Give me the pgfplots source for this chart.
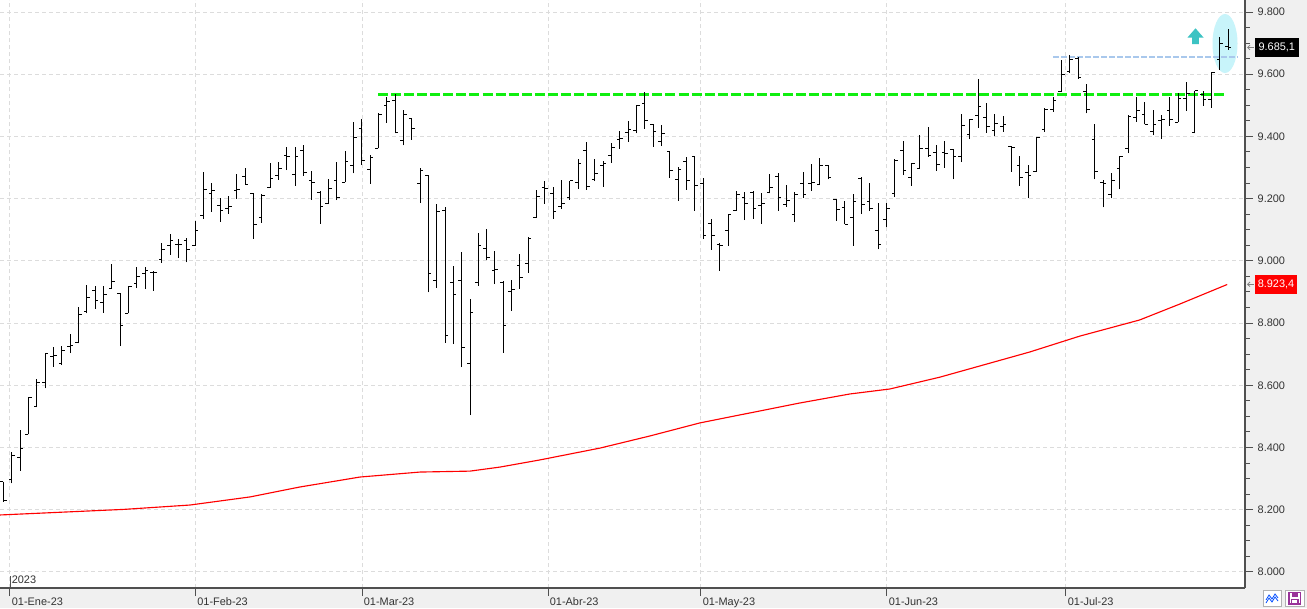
\documentclass[border=0pt]{standalone}
\usepackage{pgfplots}
\pgfplotsset{compat=1.18}
\usepackage{pgfplotstable}
\usepackage{fontspec}
\setmainfont{Liberation Sans}
\usetikzlibrary{arrows.meta}
\definecolor{panel}{HTML}{F0F0F0}
\definecolor{gridc}{HTML}{DCDCDC}
\definecolor{resgreen}{HTML}{10EE10}
\definecolor{lightblue}{HTML}{A9C8EC}
\definecolor{elcyan}{HTML}{C8F4FA}
\definecolor{arrcyan}{HTML}{3CC3C3}
\definecolor{axc}{HTML}{505050}

\pgfplotstableread{
i o h l c
1 8290 8290 8226 8231
2 8298 8386 8285 8373
3 8368 8456 8325 8397
4 8442 8563 8442 8562
5 8531 8620 8529 8610
6 8610 8703 8590 8703
7 8694 8722 8660 8696
8 8671 8725 8665 8713
9 8724 8765 8703 8727
10 8737 8853 8735 8829
11 8837 8922 8831 8883
12 8906 8919 8846 8874
13 8865 8919 8833 8893
14 8912 8990 8912 8935
15 8896 8898 8726 8793
16 8831 8919 8831 8919
17 8928 8981 8912 8949
18 8958 8981 8909 8968
19 8963 8968 8904 8962
20 9006 9056 8994 9038
21 9048 9085 9019 9065
22 9053 9070 9010 9053
23 9064 9073 8995 9038
24 9050 9128 9049 9098
25 9146 9287 9136 9230
26 9217 9250 9158 9227
27 9179 9202 9126 9163
28 9169 9209 9151 9175
29 9227 9279 9200 9230
30 9272 9299 9245 9245
31 9217 9217 9071 9118
32 9138 9215 9123 9211
33 9235 9315 9235 9265
34 9275 9318 9260 9298
35 9339 9366 9292 9334
36 9278 9366 9242 9336
37 9355 9372 9274 9285
38 9257 9289 9196 9253
39 9221 9224 9119 9175
40 9184 9262 9182 9232
41 9259 9319 9195 9203
42 9253 9353 9253 9319
43 9307 9446 9281 9398
44 9424 9456 9309 9323
45 9294 9340 9248 9331
46 9362 9474 9362 9469
47 9500 9528 9444 9513
48 9514 9536 9410 9413
49 9388 9485 9371 9469
50 9458 9458 9390 9426
51 9249 9298 9187 9289
52 9275 9275 8899 8960
53 8938 9182 8914 9159
54 9163 9173 8737 8761
55 8929 8983 8732 8892
56 8937 9028 8658 8722
57 8671 8877 8504 8835
58 8931 9090 8920 9050
59 9040 9102 9002 9011
60 8970 9032 8925 8973
61 8932 8934 8705 8793
62 8900 8938 8840 8909
63 8986 9022 8910 8947
64 8990 9076 8962 9073
65 9140 9228 9137 9208
66 9236 9257 9184 9233
67 9217 9237 9136 9159
68 9174 9260 9167 9185
69 9204 9257 9196 9257
70 9253 9326 9232 9314
71 9355 9382 9229 9240
72 9263 9326 9256 9281
73 9307 9320 9238 9314
74 9339 9378 9316 9364
75 9391 9417 9361 9393
76 9412 9450 9383 9423
77 9418 9501 9410 9499
78 9507 9542 9425 9452
79 9439 9439 9367 9417
80 9384 9437 9369 9410
81 9352 9352 9267 9292
82 9263 9301 9193 9295
83 9321 9335 9229 9259
84 9336 9336 9161 9243
85 9249 9265 9070 9082
86 9121 9136 9036 9080
87 9054 9056 8968 9048
88 9098 9150 9049 9150
89 9161 9224 9161 9214
90 9204 9221 9131 9185
91 9221 9224 9136 9168
92 9179 9217 9119 9185
93 9220 9279 9217 9235
94 9270 9282 9161 9204
95 9180 9244 9174 9195
96 9150 9220 9126 9214
97 9249 9286 9203 9214
98 9249 9311 9226 9253
99 9246 9331 9246 9308
100 9308 9308 9262 9267
101 9196 9196 9129 9166
102 9172 9192 9118 9118
103 9140 9214 9049 9192
104 9265 9271 9150 9182
105 9192 9250 9160 9169
106 9099 9185 9037 9054
107 9134 9185 9108 9169
108 9217 9326 9206 9322
109 9355 9385 9276 9292
110 9269 9314 9242 9314
111 9298 9405 9298 9362
112 9362 9430 9334 9339
113 9349 9372 9290 9310
114 9348 9385 9299 9346
115 9359 9359 9262 9336
116 9337 9472 9317 9436
117 9407 9455 9391 9453
118 9468 9585 9428 9497
119 9462 9507 9412 9431
120 9420 9472 9402 9443
121 9433 9466 9415 9439
122 9368 9368 9287 9366
123 9307 9336 9242 9269
124 9285 9307 9201 9275
125 9287 9399 9287 9396
126 9422 9490 9415 9487
127 9487 9528 9480 9515
128 9545 9646 9544 9598
129 9608 9662 9605 9648
130 9651 9654 9585 9589
131 9546 9569 9474 9487
132 9389 9440 9262 9288
133 9251 9260 9172 9250
134 9212 9283 9201 9257
135 9298 9337 9230 9335
136 9360 9469 9346 9463
137 9462 9528 9447 9482
138 9472 9510 9439 9439
139 9415 9485 9404 9440
140 9451 9469 9391 9456
141 9485 9528 9434 9456
142 9446 9541 9446 9523
143 9523 9576 9483 9539
144 9413 9547 9410 9547
145 9536 9547 9499 9520
146 9520 9608 9492 9605
147 9649 9721 9614 9699
148 9689 9745 9678 9685.1
}\ohlc

\begin{document}
\begin{tikzpicture}
\useasboundingbox (0,0) rectangle (980.25pt,-456pt);
% background panels and annotations (pixel coordinates, origin top-left)
\begin{scope}[x=0.75pt,y=-0.75pt]
  \fill[white] (0,0) rectangle (1307,608);
  \fill[panel] (1245,0) rectangle (1307,608);
  \fill[panel] (0,588) rectangle (1307,608);
  \fill[elcyan] (1225,43.5) ellipse [x radius=12.5, y radius=29.5];
  \fill[arrcyan] (1187.5,37.5) -- (1195.5,28.3) -- (1203.5,37.5) -- (1198.8,37.5) -- (1198.8,44) -- (1192.2,44) -- (1192.2,37.5) -- cycle;
\end{scope}

\begin{axis}[
  at={(0pt,0pt)}, anchor=north west,
  scale only axis, width=933.75pt, height=441pt,
  xmin=0.58, xmax=150.04, ymin=7948.2, ymax=9838.6,
  axis x line*=bottom, axis y line*=right,
  axis line style={draw=axc, line width=0.8pt},
  tick align=outside,
  major tick length=6pt, minor tick length=3.5pt,
  tick style={draw=axc, line width=0.75pt},
  ytick={8000,8200,8400,8600,8800,9000,9200,9400,9600,9800},
  minor y tick num=3,
  xtick={1.78,24.05,44.04,66.37,84.73,107.06,128.55},
  xticklabels={01-Ene-23,01-Feb-23,01-Mar-23,01-Abr-23,01-May-23,01-Jun-23,01-Jul-23},
  xmajorgrids=true, ymajorgrids=true,
  major grid style={draw=gridc, dash pattern=on 3pt off 2.25pt, line width=0.75pt},
  /pgf/number format/assume math mode=true,
  /pgf/number format/1000 sep={.},
  yticklabel style={font=\fontsize{8.2}{10}\selectfont, text=black!80},
  xticklabel style={font=\fontsize{8.2}{10}\selectfont, text=black!80, anchor=north west, inner sep=0pt, xshift=1.2pt, yshift=-1pt},
  clip=false,
]
% resistance / reference lines
\addplot[resgreen, line width=2.2pt, dash pattern=on 7.5pt off 2.3pt] coordinates {(45.96,9535) (147.8,9535)};
\addplot[lightblue, line width=1.4pt, dash pattern=on 4.5pt off 1.5pt] coordinates {(126.99,9656) (149.2,9656)};
% 200-day moving average
\addplot[red, line width=0.85pt] coordinates {
(0.58,8183) (15.47,8201) (23.39,8215) (30.59,8241) (36.59,8273) (43.80,8305)
(51.0,8321) (57.0,8324) (60.6,8337) (65.4,8360) (72.6,8398) (78.6,8437)
(84.6,8479) (90.6,8511) (96.6,8543) (102.6,8572) (107.4,8588) (113.4,8626)
(118.2,8662) (124.2,8707) (130.2,8758) (137.4,8810) (142.2,8861) (147.9,8924)};
% OHLC bars
\addplot[black, line width=0.72pt, quiver={u=0, v=\thisrow{h}-\thisrow{l}}] table[x=i, y=l] {\ohlc};
\addplot[black, line width=0.72pt, quiver={u=-0.38, v=0}] table[x=i, y=o] {\ohlc};
\addplot[black, line width=0.72pt, quiver={u=0.38, v=0}] table[x=i, y=c] {\ohlc};
\end{axis}

\begin{scope}[x=0.75pt,y=-0.75pt]
  % year marker
  \draw[axc, line width=0.75pt] (10,576) -- (10,588);
  \node[anchor=west, inner sep=0pt, font=\fontsize{8.2}{10}\selectfont, text=black!80] at (11.5,580) {2023};
  % last value labels
  \fill[black] (1255,38) rectangle (1298.5,57);
  \node[text=white, inner sep=0pt, font=\fontsize{8.2}{10}\selectfont] at (1276.8,47.5) {9.685,1};
  \draw[gray, line width=0.6pt, -{Straight Barb[length=1.8pt,width=3.5pt]}] (1254,47.5) -- (1247,47.5);
  \fill[red] (1255,275) rectangle (1297,293.5);
  \node[text=white, inner sep=0pt, font=\fontsize{8.2}{10}\selectfont] at (1276,284.3) {8.923,4};
  \draw[gray, line width=0.6pt, -{Straight Barb[length=1.8pt,width=3.5pt]}] (1254,284.3) -- (1247,284.3);
  % small icons bottom right
  \filldraw[fill=white, draw=gray!60, line width=0.6pt] (1263.5,590.5) rectangle (1281,606);
  \draw[blue!70!cyan, line width=0.6pt] (1266,600) -- (1269,595) -- (1272,599) -- (1275,594) -- (1278,598);
  \draw[blue!70!cyan, line width=0.6pt] (1266,603) -- (1269,598) -- (1272,602) -- (1275,597) -- (1278,601);
  \filldraw[fill=white, draw=gray!60, line width=0.6pt] (1285.5,590.5) rectangle (1304,606);
  \draw[violet!80, line width=1pt] (1289,592.5) rectangle (1300.5,604);
  \fill[violet!80] (1291.5,592.5) rectangle (1298,596.5);
  \draw[violet!80, line width=0.8pt] (1291.5,599.5) rectangle (1298,604);
\end{scope}
\end{tikzpicture}
\end{document}
